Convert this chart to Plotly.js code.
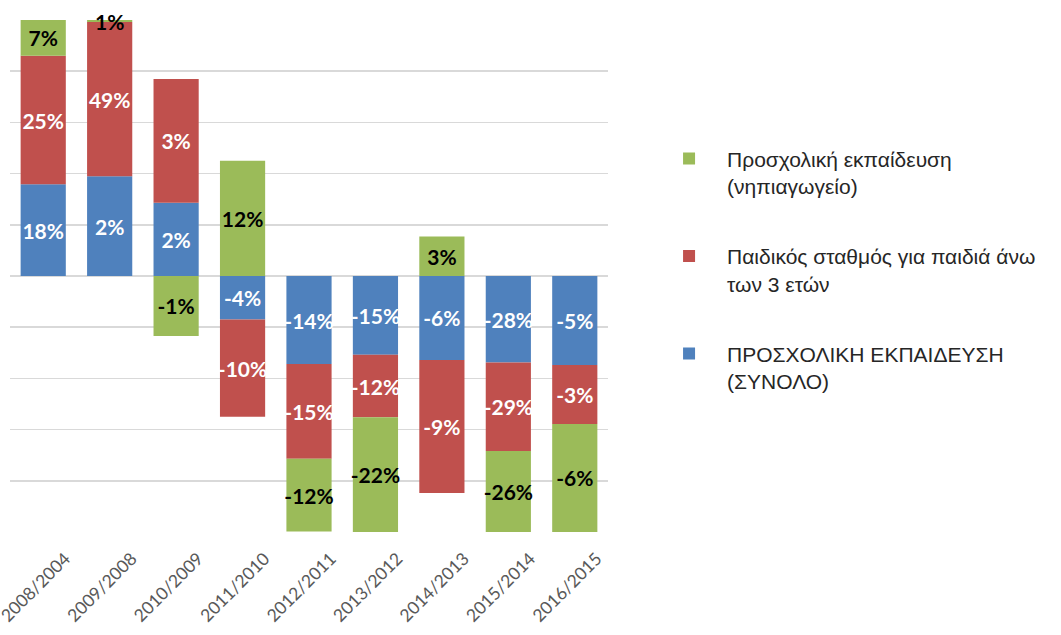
<!DOCTYPE html>
<html>
<head>
<meta charset="utf-8">
<script src="https://cdn.plot.ly/plotly-3.0.1.min.js"></script>
<style>html,body{margin:0;padding:0;background:#fff;}#chart{width:1061px;height:635px;}</style>
</head>
<body>
<div id="chart"></div>
<script>
// Categories (x axis)
var categories = ["2008/2004","2009/2008","2010/2009","2011/2010","2012/2011","2013/2012","2014/2013","2015/2014","2016/2015"];

var totalValues  = [17.9, 19.5, 14.3, -8.5, -17.2, -15.4, -16.4, -16.9, -17.4];
var over3Values  = [25.1, 30.1, 24.2, -19.0, -18.5, -12.2, -26.0, -17.3, -11.5];
var kinderValues = [7.0, 0.4, -11.7, 22.5, -14.2, -22.4, 7.7, -15.8, -21.1];

// Labels printed on the segments
var totalLabels  = ["18%","2%","2%","-4%","-14%","-15%","-6%","-28%","-5%"];
var over3Labels  = ["25%","49%","3%","-10%","-15%","-12%","-9%","-29%","-3%"];
var kinderLabels = ["7%","1%","-1%","12%","-12%","-22%","3%","-26%","-6%"];

// Series names
var seriesNames = [
  "ΠΡΟΣΧΟΛΙΚΗ ΕΚΠΑΙΔΕΥΣΗ<br>(ΣΥΝΟΛΟ)",
  "Παιδικός σταθμός για παιδιά άνω<br>των 3 ετών",
  "Προσχολική εκπαίδευση<br>(νηπιαγωγείο)"
];

var labelFont = "Lato, 'Open Sans', sans-serif";

function barTrace(vals, labels, name, color, txtColor, group, rank) {
  return {
    type: "bar",
    x: categories,
    y: vals,
    text: labels,
    name: name,
    legendgroup: group,
    legendrank: rank,
    textposition: "inside",
    insidetextanchor: "middle",
    constraintext: "none",
    cliponaxis: false,
    textangle: 0,
    textfont: {family: labelFont, size: 21, color: txtColor, weight: "bold"},
    marker: {color: color},
    hoverinfo: "x+y+name"
  };
}

var data = [
  barTrace(totalValues, totalLabels, seriesNames[0], "#4f81bd", "#ffffff", "g1", 3),
  barTrace(over3Values, over3Labels, seriesNames[1], "#c0504d", "#ffffff", "g2", 2),
  barTrace(kinderValues, kinderLabels, seriesNames[2], "#9bbb59", "#000000", "g3", 1)
];

var layout = {
  width: 1061,
  height: 635,
  margin: {l: 10, r: 453, t: 20, b: 103},
  paper_bgcolor: "#ffffff",
  plot_bgcolor: "#ffffff",
  barmode: "relative",
  bargap: 0.32,
  showlegend: true,
  legend: {
    x: 1.072, xanchor: "left",
    y: 0.769, yanchor: "top",
    traceorder: "grouped",
    tracegroupgap: 40,
    itemwidth: 66,
    valign: "top",
    font: {family: "'Liberation Sans', Arial, sans-serif", size: 21, color: "#262626"}
  },
  xaxis: {
    type: "category",
    tickangle: -45,
    tickfont: {family: labelFont, size: 17.5, color: "#595959"},
    ticklabelshift: 22,
    ticklabelstandoff: 12,
    showgrid: false,
    showline: false,
    ticks: "",
    zeroline: false
  },
  yaxis: {
    range: [-50, 50],
    dtick: 10,
    tick0: 0,
    showticklabels: false,
    showgrid: true,
    gridcolor: "#d9d9d9",
    gridwidth: 1.5,
    zeroline: true,
    zerolinecolor: "#d9d9d9",
    zerolinewidth: 1.5,
    ticks: ""
  }
};

Plotly.newPlot("chart", data, layout, {displayModeBar: false, staticPlot: true});
</script>
</body>
</html>
